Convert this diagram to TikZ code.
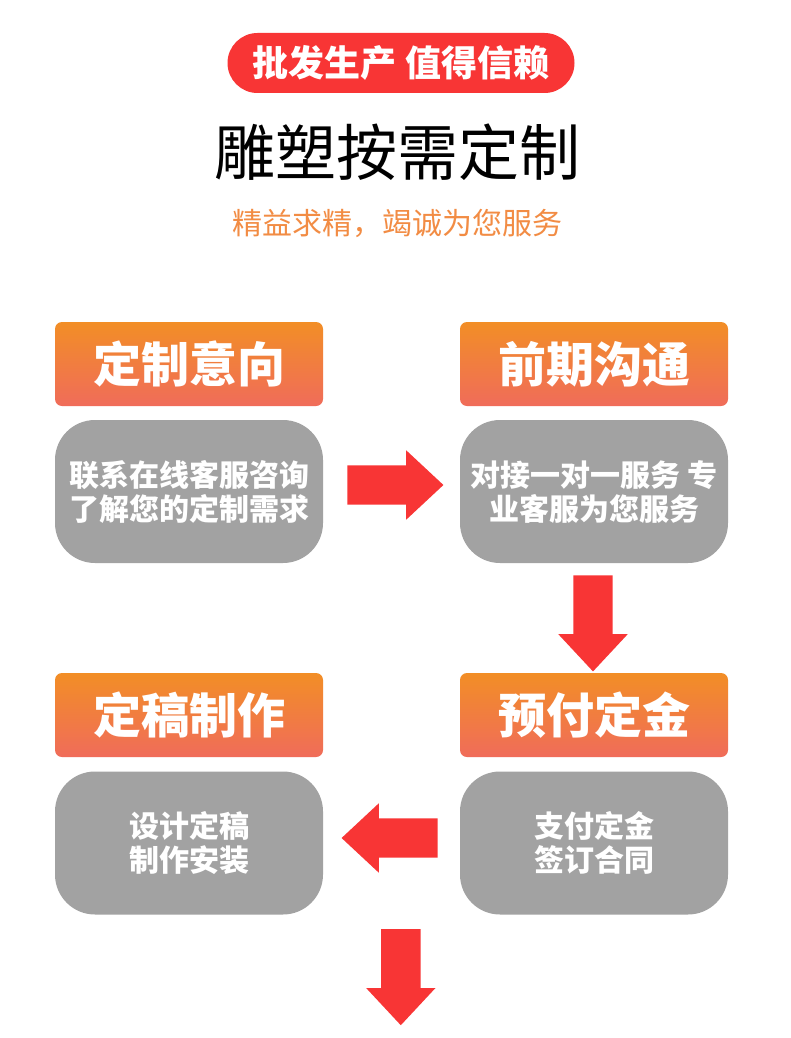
\documentclass[tikz,border=0pt]{standalone}
\usepackage{fontspec}
\setmainfont{Noto Sans CJK SC}
\usetikzlibrary{shapes.arrows,calc}
\definecolor{pillred}{HTML}{F83535}
\definecolor{boxgray}{HTML}{A2A2A2}
\definecolor{headtop}{HTML}{F28E26}
\definecolor{headbot}{HTML}{F06C5A}
\definecolor{suborange}{HTML}{F28C44}

\begin{document}
\begin{tikzpicture}[x=1pt, y=-1pt,
    header/.style={rectangle, rounded corners=7pt, top color=headtop, bottom color=headbot,
        minimum width=268pt, minimum height=84pt, text=white,
        font=\fontsize{48}{56}\selectfont\bfseries},
    panel/.style={rectangle, rounded corners=40pt, fill=boxgray, minimum width=268pt,
        minimum height=143pt, text=white, align=center,
        font=\fontsize{30}{34}\selectfont\bfseries},
    blockarrow/.style={single arrow, fill=pillred, minimum height=96pt, inner xsep=0pt,
        inner ysep=19.5pt, single arrow head extend=15pt, single arrow tip angle=86, anchor=tail}]
        \fill[white] (0, 0) rectangle (790, 1038);
        \useasboundingbox (0, 0) rectangle (790, 1038);
        % heading
        \node[fill=pillred, rounded corners=30pt, minimum width=347pt, minimum height=60pt,
            text=white, font=\fontsize{36}{42}\selectfont\bfseries] (pill) at (401, 63) {批发生产 值得信赖};
        \node[font=\fontsize{61}{70}\selectfont] (title) at (397, 152) {雕塑按需定制};
        \node[text=suborange, font=\fontsize{30}{36}\selectfont] (subtitle) at (397, 223) {精益求精，竭诚为您服务};
        % first row
        \node[header] (h1) at (189, 364) {定制意向};
        \node[header] (h2) at (594, 364) {前期沟通};
        \node[panel] (g1) at (189, 491.5) {联系在线客服咨询\\了解您的定制需求};
        \node[panel] (g2) at (594, 491.5) {对接一对一服务 专\\业客服为您服务};
        % second row
        \node[header] (h3) at (189, 715) {定稿制作};
        \node[header] (h4) at (594, 715) {预付定金};
        \node[panel] (g3) at (189, 843) {设计定稿\\制作安装};
        \node[panel] (g4) at (594, 843) {支付定金\\签订合同};
        % arrows
        \node[blockarrow] (a1) at ($(g1.east) + (24, -6.5)$) {};
        \node[blockarrow, rotate=-90] (a2) at ($(g2.south) + (-1, 12)$) {};
        \node[blockarrow, rotate=180] (a3) at ($(g4.west) + (-22, -5)$) {};
        \node[blockarrow, rotate=-90] (a4) at ($(a3.tail) + (-37, 91)$) {};
    \end{tikzpicture}
\end{document}
